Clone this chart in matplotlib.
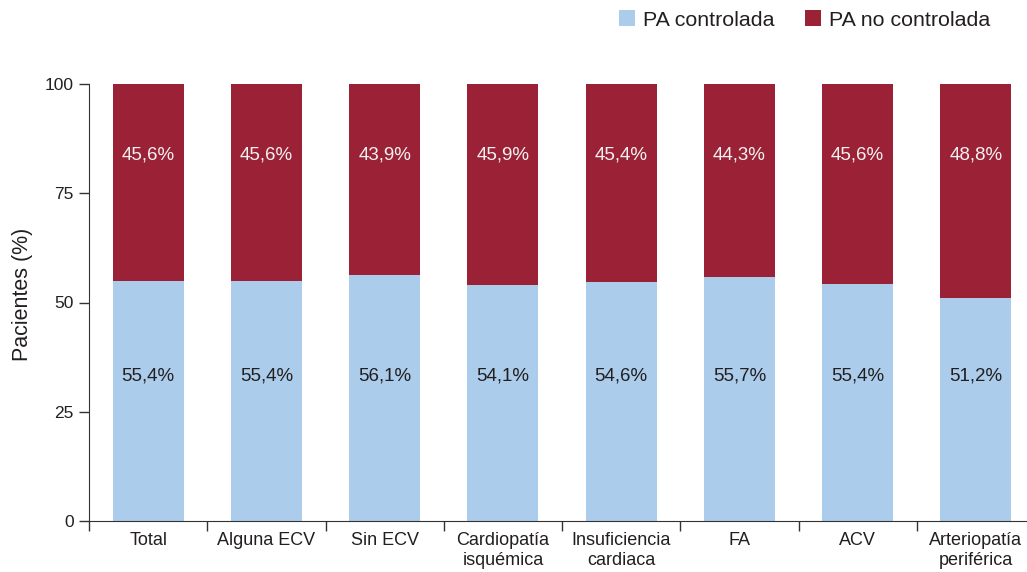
#!/usr/bin/env python3
"""
Porcentaje de pacientes con PA controlada / no controlada según ECV
"""

import numpy as np
import matplotlib
matplotlib.use('Agg')
import matplotlib.pyplot as plt
from matplotlib.patches import Patch

# Datos
categorias = ['Total', 'Alguna ECV', 'Sin ECV', 'Cardiopatía\nisquémica',
              'Insuficiencia\ncardiaca', 'FA', 'ACV', 'Arteriopatía\nperiférica']
altura_controlada = [55.0, 55.0, 56.2, 54.1, 54.8, 55.9, 54.3, 51.1]  # altura de las barras
etiqueta_controlada = ['55,4%', '55,4%', '56,1%', '54,1%', '54,6%', '55,7%', '55,4%', '51,2%']
etiqueta_no_controlada = ['45,6%', '45,6%', '43,9%', '45,9%', '45,4%', '44,3%', '45,6%', '48,8%']
ticks_y = [0, 25, 50, 75, 100]

color_ctrl = '#abcdeb'
color_no_ctrl = '#9b2236'
color_texto = '#231f20'

plt.rcParams['font.family'] = ['Liberation Sans', 'DejaVu Sans']

fig = plt.figure(figsize=(10.27, 5.72), dpi=100)
ax = fig.add_axes([89 / 1027, 1 - 521 / 572, 946 / 1027, 437 / 572])

x = np.arange(len(categorias))
ctrl = np.array(altura_controlada)
ax.bar(x, ctrl, width=0.6, color=color_ctrl, linewidth=0)
ax.bar(x, 100 - ctrl, bottom=ctrl, width=0.6, color=color_no_ctrl, linewidth=0)

# Etiquetas dentro de las barras
for i in range(len(categorias)):
    ax.text(x[i], 33.2, etiqueta_controlada[i], ha='center', va='center',
            fontsize=13.5, color=color_texto)
    ax.text(x[i], 83.8, etiqueta_no_controlada[i], ha='center', va='center',
            fontsize=13.5, color='#f2f2f2')

ax.set_xlim(-0.5, len(categorias) - 0.5)
ax.set_ylim(0, 100)
ax.set_yticks(ticks_y)
ax.set_yticklabels([str(t) for t in ticks_y], fontsize=12.5, color=color_texto)

# Etiquetas de categoría centradas, marcas en los límites
ax.set_xticks(x)
ax.set_xticklabels(categorias, fontsize=13, color=color_texto, linespacing=1.25)
ax.tick_params(axis='x', which='major', length=0, pad=8)
ax.set_xticks(np.arange(len(categorias)) - 0.5, minor=True)
ax.tick_params(axis='x', which='minor', length=7, width=1, color='#333333')
ax.tick_params(axis='y', length=7, width=1, color='#333333', pad=4)

ax.set_ylabel('Pacientes (%)', fontsize=15.5, color=color_texto)
ax.yaxis.set_label_coords(-0.059, 0.519)

for lado in ['top', 'right']:
    ax.spines[lado].set_visible(False)
ax.spines['left'].set_color('#333333')
ax.spines['bottom'].set_color('#333333')

# Leyenda
handles = [Patch(facecolor=color_ctrl, label='PA controlada'),
           Patch(facecolor=color_no_ctrl, label='PA no controlada')]
fig.legend(handles=handles, loc='center right', bbox_to_anchor=(990 / 1027, 1 - 20 / 572),
           ncol=2, frameon=False, fontsize=15.4, handlelength=0.75, handleheight=0.75,
           handletextpad=0.35, columnspacing=1.45, borderpad=0, borderaxespad=0,
           labelcolor=color_texto)

plt.savefig('out.png', dpi=100)
